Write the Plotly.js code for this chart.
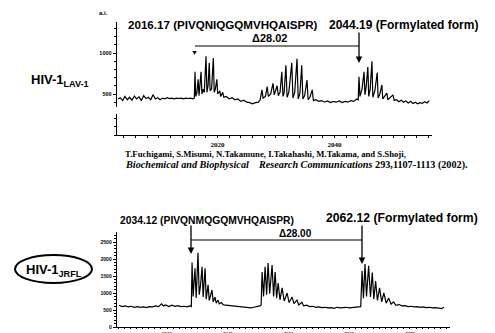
<!DOCTYPE html>
<html><head><meta charset="utf-8">
<script src="https://cdn.plot.ly/plotly-3.0.1.min.js"></script>
<style>html,body{margin:0;padding:0;background:#fff}#c{width:495px;height:333px}</style>
</head><body><div id="c"></div>
<script>
// ---- Data: HIV-1 LAV-1 spectrum (m/z, intensity a.i.) ----
const lavMz = [2003.0,2003.4,2003.8,2004.2,2004.6,2005.0,2005.4,2005.8,2006.2,2006.6,2007.0,2007.4,2007.8,2008.2,2008.6,2009.0,2009.4,2009.8,2010.2,2010.6,2011.0,2011.4,2011.8,2012.2,2012.6,2013.0,2013.4,2013.8,2014.2,2014.6,2015.0,2015.4,2015.8,2016.05,
 2016.17,2016.3,2016.5,2016.7,2016.85,2017.2,2017.35,2017.55,2017.75,2018.05,2018.2,2018.4,2018.6,2018.75,2019.0,2019.3,2019.45,2019.65,2019.9,2020.05,2020.4,2020.55,2020.9,2021.1,
 2021.5,2022.0,2022.5,2023.0,2023.5,2024.0,2024.5,2025.0,2025.5,2026.0,2026.5,2027.0,
 2027.3,2027.6,2027.8,2028.2,2028.5,2028.7,2029.1,2029.5,2029.7,2030.2,2030.4,2030.7,2031.0,2031.2,2031.4,2031.7,2031.9,2032.2,2032.7,2032.9,2033.2,2033.6,2033.8,2034.1,2034.4,2034.6,2034.9,2035.3,2035.5,2035.8,2036.2,2036.4,
 2036.8,2037.3,2037.8,2038.3,2038.8,2039.3,2039.8,2040.3,2040.8,2041.3,2041.8,2042.3,2042.8,2043.3,2043.8,2044.05,
 2044.19,2044.35,2044.7,2045.05,2045.2,2045.4,2045.7,2045.85,2046.1,2046.4,2046.55,2046.9,2047.3,2047.45,2047.75,2048.1,2048.25,2048.6,2048.95,2049.1,2049.5,2050.0,2050.2,
 2050.6,2051.0,2051.4,2051.8,2052.2,2052.6,2053.0,2053.4,2053.8,2054.2,2054.6,2055.0,2055.4,2055.8,2056.2];
const lavInt = [440,455,420,470,430,460,425,475,440,465,420,480,445,460,430,490,440,455,430,450,440,455,445,450,440,450,445,450,440,450,445,450,440,450,
 770,470,520,680,480,770,500,560,520,960,520,600,880,540,560,940,520,560,680,500,540,470,520,460,
 470,440,455,430,440,410,425,400,395,380,395,400,
 430,550,450,470,590,470,500,630,490,600,480,520,770,470,520,850,460,520,880,450,520,930,440,510,850,440,480,670,430,460,550,420,
 430,410,420,400,415,395,410,400,415,395,410,400,420,410,440,430,
 710,470,560,770,490,580,830,470,560,900,460,540,760,450,500,610,440,470,510,430,460,490,420,
 430,405,425,400,415,390,410,385,400,380,395,385,405,390,420];

// ---- Data: HIV-1 JRFL spectrum ----
const jrMz = [2022.1,2022.6,2023.1,2023.6,2024.1,2024.6,2025.1,2025.6,2026.1,2026.6,2027.1,2027.6,2028.1,2028.6,2029.1,2029.4,2029.8,2030.3,2030.8,2031.3,2031.8,2032.3,2032.8,2033.3,2033.8,2034.0,
 2034.12,2034.3,2034.6,2034.8,2035.1,2035.3,2035.5,2035.77,2035.95,2036.26,2036.45,2036.76,2036.95,2037.15,2037.4,2037.6,2037.9,2038.1,2038.4,2038.6,2038.9,2039.3,
 2039.8,2040.3,2040.8,2041.3,2041.8,2042.3,2042.8,2043.3,2043.8,2044.3,2044.8,2045.3,
 2045.5,2045.65,2045.9,2046.15,2046.4,2046.64,2046.9,2047.3,2047.55,2047.8,2048.05,2048.3,2048.6,2048.95,2049.3,2049.77,2050.1,2050.6,2050.9,2051.4,2051.7,2052.2,2052.5,
 2053.0,2053.5,2054.0,2054.5,2055.0,2055.5,2056.0,2056.5,2057.0,2057.5,2058.0,2058.5,2059.0,2059.5,2060.0,2060.5,2061.0,2061.5,2061.9,
 2062.12,2062.35,2062.6,2062.85,2063.2,2063.5,2063.8,2064.05,2064.35,2064.65,2065.0,2065.35,2065.7,2066.1,2066.5,2066.9,2067.3,2067.7,
 2068.2,2068.7,2069.2,2069.7,2070.2,2070.7,2071.2,2071.7,2072.2,2072.7,2073.2,2073.7,2074.2,2074.7,2075.2,2075.6];
const jrInt = [640,600,620,590,610,580,600,575,590,570,600,590,620,600,680,620,650,600,640,610,630,600,610,590,620,600,
 1900,900,1730,850,2180,950,1200,1770,880,1730,820,1240,780,900,1090,740,880,700,790,680,720,650,
 640,610,600,590,580,570,560,570,560,580,590,620,
 650,1620,900,1770,950,1880,980,1820,900,1620,850,1290,800,1150,760,1000,720,880,690,790,650,730,620,
 640,600,610,580,590,570,580,560,570,550,580,560,570,580,560,570,590,610,600,
 1650,850,1850,900,1800,880,1600,820,1350,780,1150,740,1000,700,850,670,740,640,
 660,620,630,600,610,590,600,580,590,570,580,560,570,550,540,580];

// ---- Tick labels / texts ----
const topYTicks = [500, 1000];
const topXTicks = [2020, 2040];
const botYTicks = [0, 500, 1000, 1500, 2000, 2500];
const botXTicks = [2030, 2040, 2050, 2060, 2070];
const labelTop1 = '2016.17 (PIVQNIQGQMVHQAISPR)';
const labelTop2 = '2044.19 (Formylated form)';
const deltaTop = 'Δ28.02';
const labelBot1 = '2034.12 (PIVQNMQGQMVHQAISPR)';
const labelBot2 = '2062.12 (Formylated form)';
const deltaBot = 'Δ28.00';

const W = 495, H = 333;
const px = x => x / W, py = y => 1 - y / H;
const sans = 'Liberation Sans, Arial, sans-serif';
const serif = 'Liberation Serif, Times New Roman, serif';

const traces = [
  {x: lavMz, y: lavInt, xaxis: 'x', yaxis: 'y', mode: 'lines', line: {color: '#000', width: 1.2}, hoverinfo: 'skip'},
  {x: jrMz, y: jrInt, xaxis: 'x2', yaxis: 'y2', mode: 'lines', line: {color: '#000', width: 1.2}, hoverinfo: 'skip'}
];

const axCommon = {showline: true, linecolor: '#000', linewidth: 1.3, showgrid: false, zeroline: false,
  ticks: 'outside', ticklen: 3, tickcolor: '#000', tickwidth: 1};

const layout = {
  width: W, height: H, margin: {l: 0, r: 0, t: 0, b: 0},
  paper_bgcolor: '#fff', plot_bgcolor: 'rgba(0,0,0,0)', showlegend: false,
  xaxis: Object.assign({}, axCommon, {domain: [px(117), px(432)], anchor: 'y', range: [2002.84, 2056.66],
    tickvals: topXTicks, ticklen: 2, tickfont: {family: serif, size: 7, color: '#000', weight: 'bold'},
    minor: {ticks: 'outside', ticklen: 2, dtick: 2, tickcolor: '#000'}}),
  yaxis: Object.assign({}, axCommon, {domain: [py(135), py(22)], anchor: 'x', range: [0, 1378],
    tickvals: topYTicks, tickfont: {family: sans, size: 5.5, color: '#000', weight: 'bold'},
    minor: {ticks: 'outside', ticklen: 2, dtick: 100, tickcolor: '#000'}}),
  xaxis2: Object.assign({}, axCommon, {domain: [px(117), px(450)], anchor: 'y2', range: [2021.76, 2076.6],
    tickvals: botXTicks, ticklen: 1, tickfont: {family: serif, size: 5, color: '#000', weight: 'bold'},
    minor: {ticks: 'outside', ticklen: 1, dtick: 1, tickcolor: '#000'}}),
  yaxis2: Object.assign({}, axCommon, {domain: [py(327), py(232)], anchor: 'x2', range: [0, 2794],
    tickvals: botYTicks, tickfont: {family: sans, size: 5, color: '#000', weight: 'bold'},
    minor: {ticks: 'outside', ticklen: 2, dtick: 100, tickcolor: '#000'}}),
  shapes: [
    {type: 'rect', xref: 'paper', yref: 'paper', x0: px(112), x1: px(122), y0: py(114), y1: py(107), fillcolor: '#fff', line: {width: 0}, layer: 'above'},
    {type: 'line', xref: 'paper', yref: 'paper', x0: px(195), x1: px(359), y0: py(46), y1: py(46), line: {color: '#000', width: 1.2}},
    {type: 'line', xref: 'paper', yref: 'paper', x0: px(191), x1: px(362), y0: py(240), y1: py(240), line: {color: '#000', width: 1.2}},
    {type: 'circle', xref: 'paper', yref: 'paper', x0: px(15), x1: px(92), y0: py(283), y1: py(255), line: {color: '#000', width: 2}}
  ],
  annotations: [
    {xref: 'paper', yref: 'paper', x: px(97), y: py(13), text: '<b>a.i.</b>', showarrow: false, xanchor: 'left', yanchor: 'middle', font: {family: sans, size: 6, color: '#000'}},
    {xref: 'paper', yref: 'paper', x: px(29), y: py(81), text: '<b>HIV-1<sub>LAV-1</sub></b>', showarrow: false, xanchor: 'left', yanchor: 'middle', font: {family: sans, size: 13, color: '#000'}},
    {xref: 'paper', yref: 'paper', x: px(24), y: py(270), text: '<b>HIV-1<sub>JRFL</sub></b>', showarrow: false, xanchor: 'left', yanchor: 'middle', font: {family: sans, size: 13, color: '#000'}},
    {xref: 'paper', yref: 'paper', x: px(126), y: py(25), text: '<b>' + labelTop1 + '</b>', showarrow: false, xanchor: 'left', yanchor: 'middle', font: {family: sans, size: 11.6, color: '#000'}},
    {xref: 'paper', yref: 'paper', x: px(327), y: py(25), text: '<b>' + labelTop2 + '</b>', showarrow: false, xanchor: 'left', yanchor: 'middle', font: {family: sans, size: 12, color: '#000'}},
    {xref: 'paper', yref: 'paper', x: px(250), y: py(38), text: '<b>' + deltaTop + '</b>', showarrow: false, xanchor: 'left', yanchor: 'middle', font: {family: sans, size: 11, color: '#000'}},
    {xref: 'paper', yref: 'paper', x: px(118), y: py(220), text: '<b>' + labelBot1 + '</b>', showarrow: false, xanchor: 'left', yanchor: 'middle', font: {family: sans, size: 10.3, color: '#000'}},
    {xref: 'paper', yref: 'paper', x: px(324), y: py(218), text: '<b>' + labelBot2 + '</b>', showarrow: false, xanchor: 'left', yanchor: 'middle', font: {family: sans, size: 12.2, color: '#000'}},
    {xref: 'paper', yref: 'paper', x: px(277), y: py(233), text: '<b>' + deltaBot + '</b>', showarrow: false, xanchor: 'left', yanchor: 'middle', font: {family: sans, size: 10, color: '#000'}},
    {xref: 'paper', yref: 'paper', x: px(194), y: py(52), text: '▼', showarrow: false, xanchor: 'center', yanchor: 'middle', font: {family: sans, size: 7, color: '#000'}},
    {xref: 'paper', yref: 'paper', x: px(359), y: py(63), ax: 0, ay: -32, axref: 'pixel', ayref: 'pixel', text: '', showarrow: true, arrowhead: 2, arrowsize: 1, arrowwidth: 1.3, arrowcolor: '#000'},
    {xref: 'paper', yref: 'paper', x: px(191), y: py(254), ax: 0, ay: -30, axref: 'pixel', ayref: 'pixel', text: '', showarrow: true, arrowhead: 2, arrowsize: 1, arrowwidth: 1.3, arrowcolor: '#000'},
    {xref: 'paper', yref: 'paper', x: px(362), y: py(264), ax: 0, ay: -40, axref: 'pixel', ayref: 'pixel', text: '', showarrow: true, arrowhead: 2, arrowsize: 1, arrowwidth: 1.3, arrowcolor: '#000'},
    {xref: 'paper', yref: 'paper', x: px(123), y: py(154), text: 'T.Fuchigami, S.Misumi, N.Takamune, I.Takahashi, M.Takama, and S.Shoji,', showarrow: false, xanchor: 'left', yanchor: 'middle', font: {family: serif, size: 8.7, color: '#000', weight: 'bold'}},
    {xref: 'paper', yref: 'paper', x: px(123), y: py(165), text: '<i>Biochemical and Biophysical    Research Communications</i> 293,1107-1113 (2002).', showarrow: false, xanchor: 'left', yanchor: 'middle', font: {family: serif, size: 10.2, color: '#000', weight: 'bold'}}
  ]
};

Plotly.newPlot('c', traces, layout, {staticPlot: true, displayModeBar: false});
</script></body></html>
